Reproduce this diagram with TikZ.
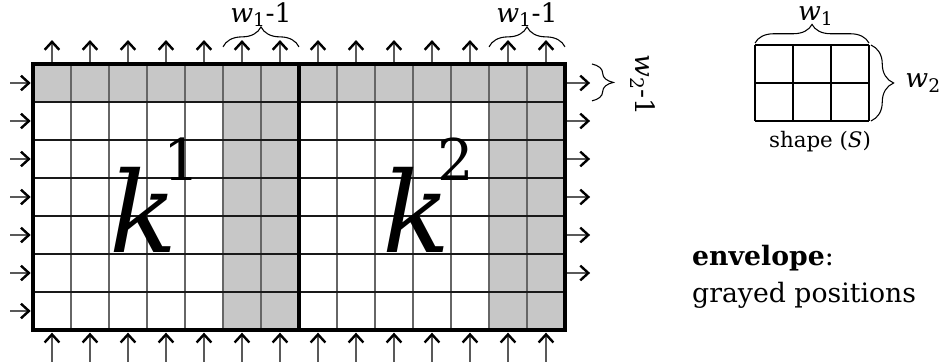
\documentclass[tikz,border=0pt]{standalone}
\usepackage{xcolor}
\usepackage{tikz}
\usepackage{fontspec}
\setmainfont{DejaVu Serif}
\usetikzlibrary{arrows.meta,decorations.pathreplacing}

\begin{document}
\begin{tikzpicture}[
  vline/.style={line width=0.9pt, black!60},
  hline/.style={line width=0.8pt, black!90},
  frame/.style={line width=3pt, line cap=rect},
  flow/.style={line width=0.9pt, black!65,
    -{Straight Barb[length=6pt,width=11pt,line width=1.8pt,color=black]}},
  curly/.style={decorate, decoration={brace, amplitude=#1}, line width=0.8pt},
  curly/.default=14pt,
  lbl/.style={font=\fontsize{20}{22}\selectfont, inner sep=0pt},
  kern/.style={font=\fontsize{84}{84}\selectfont, inner sep=0pt, anchor=base west}
]
  % Define colors
  \colorlet{envgray}{black!22}

  \useasboundingbox (-0.868,-0.842) rectangle (23.868,8.684);

  % Shade the envelope
  \fill[envgray] (0,6) rectangle (14,7);
  \fill[envgray] (5,0) rectangle (7,7);
  \fill[envgray] (12,0) rectangle (14,7);

  % Draw the grid
  \foreach \x in {1,...,13} \draw[vline] (\x,0) -- (\x,7);
  \foreach \y in {1,...,6} \draw[hline] (0,\y) -- (14,\y);
  \draw[frame] (0,0) rectangle (14,7);
  \draw[frame] (7,0) -- (7,7);

  % Arrows on the borders
  \foreach \x in {0.5,1.5,...,13.5} {
    \draw[flow] (\x,7.06) -- (\x,7.63);
    \draw[flow] (\x,-0.84) -- (\x,-0.07);
  }
  \foreach \y in {0.5,1.5,...,6.5} \draw[flow] (-0.6,\y) -- (-0.06,\y);
  \foreach \y in {1.5,2.5,...,6.5} \draw[flow] (14.06,\y) -- (14.66,\y);

  % Kernels
  \node[kern] (k1) at (2.0,2.03)
    {\textit{k}\hspace{-10pt}\raisebox{54pt}{\fontsize{43}{43}\selectfont 1}};
  \node[kern] (k2) at (9.2,2.03)
    {\textit{k}\hspace{-10pt}\raisebox{54pt}{\fontsize{43}{43}\selectfont 2}};

  % Braces on the grid
  \draw[curly=15pt] (5,7.45) -- (7,7.45);
  \node[lbl, anchor=base] (wa) at (6,8.1) {\textit{w}\textsubscript{1}-1};
  \draw[curly=15pt] (12,7.45) -- (14,7.45);
  \node[lbl, anchor=base] (wb) at (13,8.1) {\textit{w}\textsubscript{1}-1};
  \draw[curly=16pt] (14.71,7) -- (14.71,6.03);
  \node[lbl, rotate=-90] (wc) at (16.05,6.45) {\textit{w}\textsubscript{2}-1};

  % The shape
  \draw[line width=1.5pt, shift={(19,5.5)}] (0,0) grid (3,2);
  \draw[curly=14pt] (19,7.55) -- (22,7.55);
  \node[lbl, anchor=base] (w1) at (20.6,8.14) {\textit{w}\textsubscript{1}};
  \draw[curly=17pt] (22.05,7.5) -- (22.05,5.5);
  \node[lbl, anchor=base west] (w2) at (22.95,6.37) {\textit{w}\textsubscript{2}};
  \node[font=\fontsize{16}{18}\selectfont, inner sep=0pt, anchor=base] (shp) at (20.71,4.79)
    {shape (\textit{S})};

  % Legend
  \node[font=\fontsize{20}{27.7}\selectfont, align=left, anchor=west, inner sep=0pt] (env) at (17.34,1.41)
    {\textbf{envelope}:\\grayed positions};

\end{tikzpicture}
\end{document}
